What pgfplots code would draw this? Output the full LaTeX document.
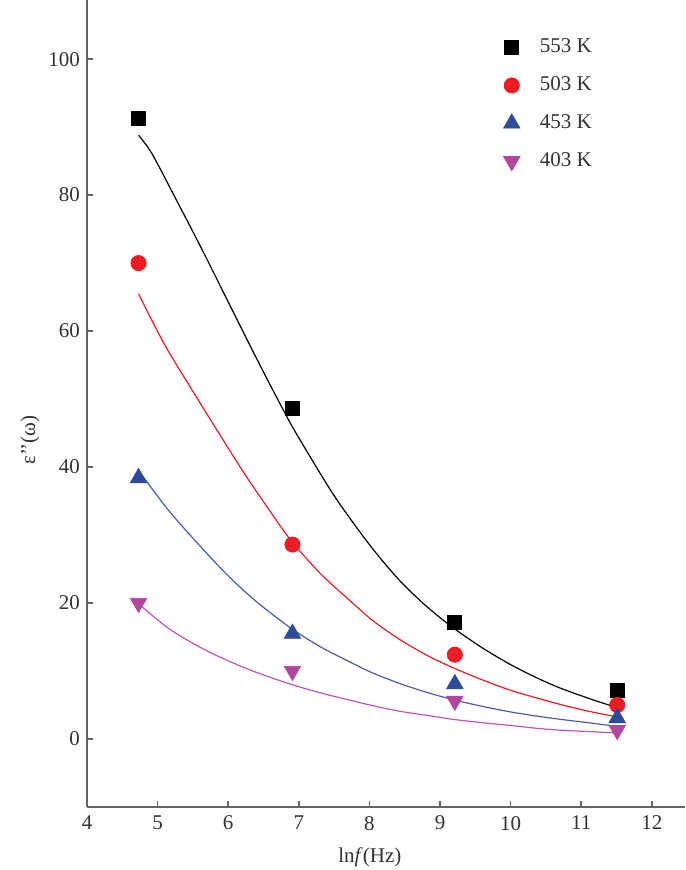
\documentclass[border=0pt]{standalone}
\usepackage{fontspec}
\setmainfont{Liberation Serif}
\usepackage{pgfplots}
\pgfplotsset{compat=1.18}
\definecolor{cred}{HTML}{ED1C24}
\definecolor{cblue}{HTML}{2E4B9B}
\definecolor{cbluel}{HTML}{4A5CB8}
\definecolor{cmag}{HTML}{B0479C}
\definecolor{cmagl}{HTML}{C455B5}
\definecolor{axgray}{HTML}{666666}
\definecolor{txt}{HTML}{333333}
\begin{document}
\begin{tikzpicture}
\begin{axis}[
  scale only axis,
  width=299pt, height=403.5pt,
  xmin=4, xmax=12.47, ymin=-10, ymax=108.7,
  axis x line*=bottom, axis y line*=left,
  axis line style={axgray, line width=0.9pt},
  xtick={4,5,...,12}, ytick={0,20,...,100},
  tick style={axgray, line width=0.8pt},
  major tick length=3pt,
  tick align=inside,
  /pgf/number format/assume math mode=true,
  ticklabel style={font=\fontsize{10.5}{12}\selectfont, text=txt},
  xticklabel style={yshift=-1pt},
  xlabel={ln\textit{f}(Hz)},
  ylabel={ε\symbol{39}\symbol{39}(ω)},
  label style={font=\fontsize{10.5}{12}\selectfont, text=txt},
  xlabel style={at={(axis description cs:0.473,0)}, anchor=north, yshift=-17pt},
  ylabel style={at={(axis description cs:-0.095,0.455)}, anchor=center},
  legend style={at={(rel axis cs:0.686,0.962)}, anchor=north west, draw=none, fill=none,
    font=\fontsize{10.5}{12}\selectfont, row sep=6.5pt, column sep=8pt, text=txt},
  legend cell align=left,
  clip=false,
]
% fitted curves
\addplot[black, line width=0.6pt, smooth, forget plot] coordinates {
(4.73,88.8) (4.92,86.1) (5.27,79.2) (5.60,72.6) (6.00,64.3) (6.40,56.0) (6.80,48.0) (7.00,44.3) (7.50,35.8) (8.00,28.6) (8.42,23.4) (8.80,19.6) (9.18,16.4) (9.60,13.4) (9.99,11.0) (10.35,9.1) (10.70,7.5) (11.10,6.0) (11.48,4.7)};
\addplot[cred, line width=0.6pt, smooth, forget plot] coordinates {
(4.73,65.5) (5.10,58.0) (5.58,49.8) (6.17,40.0) (6.50,34.9) (6.875,29.4) (7.30,24.4) (7.73,20.3) (8.05,17.4) (8.42,14.7) (8.80,12.4) (9.18,10.5) (9.60,8.7) (9.99,7.2) (10.35,6.1) (10.70,5.1) (11.10,4.1) (11.48,3.3)};
\addplot[cbluel, line width=0.6pt, smooth, forget plot] coordinates {
(4.73,39.5) (5.15,33.7) (5.60,28.4) (6.00,24.0) (6.40,20.2) (6.875,16.4) (7.30,13.6) (7.73,11.3) (8.05,9.7) (8.42,8.2) (8.80,6.9) (9.18,5.8) (9.60,4.8) (9.99,4.0) (10.35,3.4) (10.70,2.9) (11.10,2.4) (11.48,1.9)};
\addplot[cmagl, line width=0.6pt, smooth, forget plot] coordinates {
(4.73,19.9) (5.15,16.3) (5.60,13.5) (6.00,11.5) (6.40,9.8) (6.875,8.1) (7.30,6.8) (7.73,5.7) (8.05,4.9) (8.42,4.1) (8.80,3.5) (9.18,2.9) (9.60,2.4) (9.99,2.0) (10.35,1.6) (10.70,1.3) (11.10,1.1) (11.48,0.9)};
% data
\addplot[only marks, mark=square*, mark size=3.5pt, black, mark options={fill=black}] coordinates {
(4.73,91.3) (6.91,48.6) (9.21,17.1) (11.51,7.1)};
\addlegendentry{553 K}
\addplot[only marks, mark=*, mark size=3.8pt, cred, mark options={fill=cred}] coordinates {
(4.73,70.0) (6.91,28.6) (9.21,12.4) (11.51,5.0)};
\addlegendentry{503 K}
\addplot[only marks, mark=triangle*, mark size=4.7pt, cblue, mark options={fill=cblue}] coordinates {
(4.73,38.4) (6.91,15.5) (9.21,8.1) (11.51,3.1)};
\addlegendentry{453 K}
\addplot[only marks, mark=triangle*, mark size=4.7pt, cmag, mark options={fill=cmag, rotate=180}] coordinates {
(4.73,20.0) (6.91,10.0) (9.21,5.6) (11.51,1.3)};
\addlegendentry{403 K}
\end{axis}
\pgfresetboundingbox
\path ([shift={(-43.5pt,-31.5pt)}]current axis.south west) rectangle (current axis.north east);
\end{tikzpicture}
\end{document}
